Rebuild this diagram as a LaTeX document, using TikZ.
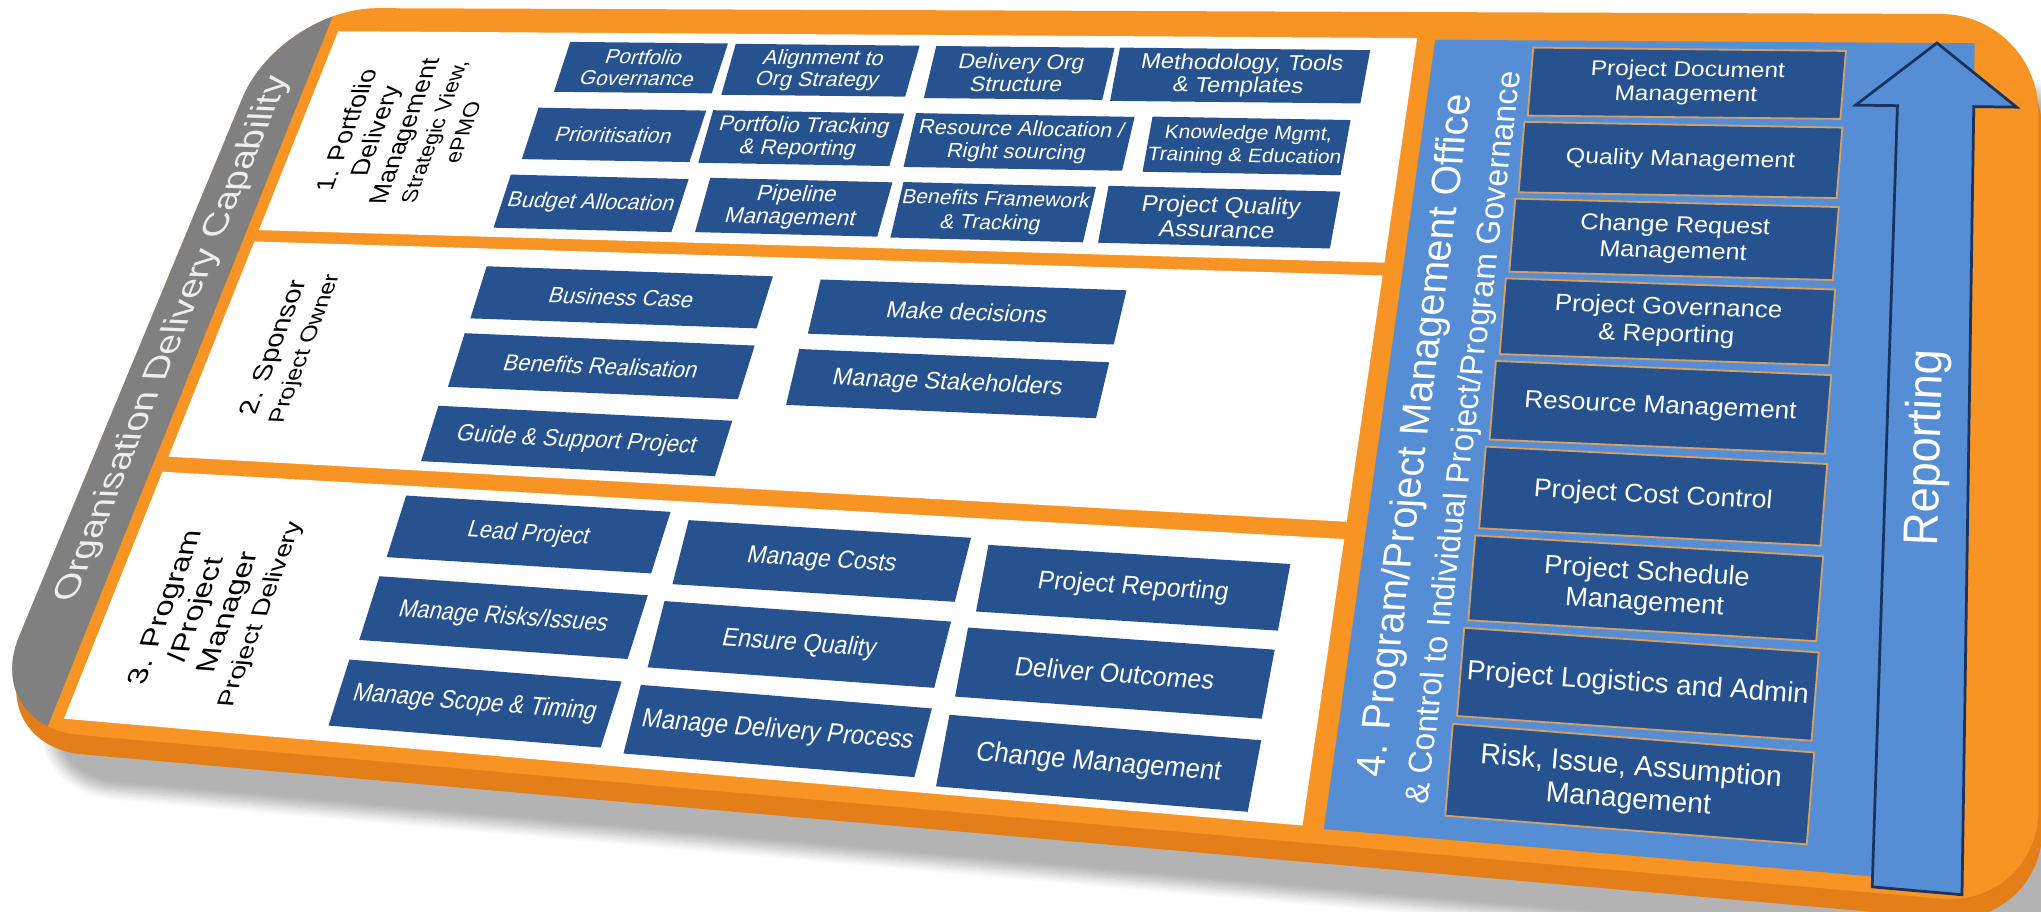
\documentclass[tikz,border=0pt]{standalone}
\usepackage{fontspec}
\setmainfont{Liberation Sans}
\usepackage{tikz}
\usetikzlibrary{shadows.blur}

\definecolor{boardorange}{RGB}{247,148,35}
\definecolor{boardside}{RGB}{228,126,24}
\definecolor{bandgray}{RGB}{128,128,128}
\definecolor{boxblue}{RGB}{38,82,143}
\definecolor{pmoblue}{RGB}{85,142,213}
\definecolor{pmoedge}{RGB}{214,160,100}
\definecolor{arrowline}{RGB}{25,50,95}

% the slide is laid out flat (u across, v down, in cm) and then seen in perspective
\newcommand\flatmap[2]{%
  \pgfmathsetmacro\flS{#1/14.426}%
  \pgfmathsetmacro\flT{#2/6.073}%
  \pgfmathsetmacro\flW{1-0.16597*\flS-0.14494*\flT}%
  \pgfmathsetmacro\flx{(1091.1*\flS-226.97*\flT+215)/\flW}%
  \pgfmathsetmacro\fly{(3.174*\flS+471.12*\flT+6)/\flW}%
  \pgfmathsetmacro\flX{\flx/100}%
  \pgfmathsetmacro\flY{7-\fly/100}%
  \pgfmathsetmacro\fla{(1091.1+0.16597*\flx)/\flW/1442.6}%
  \pgfmathsetmacro\flb{-(3.174+0.16597*\fly)/\flW/1442.6}%
  \pgfmathsetmacro\flc{(226.97-0.14494*\flx)/\flW/607.3}%
  \pgfmathsetmacro\fld{(471.12+0.14494*\fly)/\flW/607.3}%
}
\newcommand\flatpt[3]{\flatmap{#2}{#3}\coordinate (#1) at (\flX,\flY);}
\newcommand\flatrect[5]{\flatpt{#1-nw}{#2}{#3}\flatpt{#1-ne}{#4}{#3}\flatpt{#1-se}{#4}{#5}\flatpt{#1-sw}{#2}{#5}}
\newcommand\rolesub{\fontsize{5.6}{6.6}\selectfont}

\begin{document}
\begin{tikzpicture}[
flat/.style args={#1/#2}{/utils/exec={\flatmap{#1}{#2}}, cm={\fla,\flb,\flc,\fld,(\flX,\flY)}, transform shape},
capbox/.style={fill=boxblue, text=white, align=center, inner sep=0pt, minimum height=0.46cm, font=\fontsize{5.3}{5.6}\selectfont},
duty/.style={fill=boxblue, text=white, inner sep=0pt, minimum height=0.43cm, font=\fontsize{5.2}{6}\selectfont},
task/.style={fill=boxblue, text=white, inner sep=0pt, minimum height=0.46cm, minimum width=2.15cm, font=\fontsize{5}{6}\selectfont},
pmobox/.style={fill=boxblue, draw=pmoedge, line width=0.4pt, text=white, align=center, inner sep=0pt, minimum height=0.56cm, minimum width=2.25cm, font=\fontsize{5}{5.7}\selectfont},
role/.style={rotate=90, align=center, font=\fontsize{6.5}{7.6}\selectfont}
]
\useasboundingbox (0,0) rectangle (15.68,7.00);

% outlines of the board, its panels and the arrow
\flatrect{board}{0}{0}{14.426}{6.073}
\flatrect{band}{0}{0}{0.55}{6.073}
\flatrect{pone}{0.66}{0.226}{9.94}{2.07}
\flatrect{ptwo}{0.66}{2.17}{9.94}{3.98}
\flatrect{pthree}{0.66}{4.10}{9.94}{5.97}
\flatrect{pmo}{10.08}{0.24}{13.99}{5.98}
\flatpt{abl}{13.47}{6.04}
\flatpt{atl}{13.47}{0.75}
\flatpt{ahl}{13.18}{0.75}
\flatpt{atip}{13.73}{0.24}
\flatpt{ahr}{14.28}{0.75}
\flatpt{atr}{13.99}{0.75}
\flatpt{abr}{13.99}{6.04}

\fill[boardside, rounded corners=0.75cm, blur shadow={shadow xshift=0.25cm, shadow yshift=-0.28cm, shadow opacity=30, shadow blur steps=12}] ([shift={(0.03,-0.15)}]board-nw) -- ([shift={(0.03,-0.15)}]board-ne) -- ([shift={(0.03,-0.15)}]board-se) -- ([shift={(0.03,-0.15)}]board-sw) -- cycle;
\fill[boardorange, rounded corners=0.75cm] (board-nw) -- (board-ne) -- (board-se) -- (board-sw) -- cycle;
\begin{scope}
\clip (board-nw) -- (band-ne) -- (band-se) -- (board-sw) -- cycle;
\fill[bandgray, rounded corners=0.75cm] (board-nw) -- (board-ne) -- (board-se) -- (board-sw) -- cycle;
\end{scope}
\fill[white] (pone-nw) -- (pone-ne) -- (pone-se) -- (pone-sw) -- cycle;
\fill[white] (ptwo-nw) -- (ptwo-ne) -- (ptwo-se) -- (ptwo-sw) -- cycle;
\fill[white] (pthree-nw) -- (pthree-ne) -- (pthree-se) -- (pthree-sw) -- cycle;
\fill[pmoblue] (pmo-nw) -- (pmo-ne) -- (pmo-se) -- (pmo-sw) -- cycle;
\filldraw[fill=pmoblue, draw=arrowline, line width=0.6pt] (abl) -- (atl) -- (ahl) -- (atip) -- (ahr) -- (atr) -- (abr) -- cycle;

\node[flat=0.275/3.02, rotate=90, text=white!93!black, font=\fontsize{8.9}{10}\selectfont] (orgcap) {Organisation Delivery Capability};

% 1. portfolio delivery management
\node[flat=1.64/1.16, role] (role1) {1. Portfolio\\Delivery\\Management\\\rolesub Strategic View,\\\rolesub ePMO};
\node[flat=3.585/0.546, capbox, minimum width=1.41cm] (pgov) {Portfolio\\Governance};
\node[flat=5.16/0.553, capbox, minimum width=1.58cm] (aligns) {Alignment to\\Org Strategy};
\node[flat=6.835/0.559, capbox, minimum width=1.47cm] (dorg) {Delivery Org\\Structure};
\node[flat=8.615/0.562, capbox, minimum width=1.97cm] (mtt) {Methodology, Tools\\\& Templates};
\node[flat=3.54/1.157, capbox, minimum width=1.48cm] (prio) {Prioritisation};
\node[flat=5.16/1.157, capbox, minimum width=1.62cm] (ptrack) {Portfolio Tracking\\\& Reporting};
\node[flat=6.965/1.157, capbox, minimum width=1.77cm, font=\fontsize{5.0}{5.6}\selectfont] (ralloc) {Resource Allocation /\\Right sourcing};
\node[flat=8.765/1.157, capbox, minimum width=1.53cm, font=\fontsize{4.6}{5.4}\selectfont] (kmgmt) {Knowledge Mgmt,\\Training \& Education};
\node[flat=3.535/1.76, capbox, minimum width=1.55cm] (budget) {Budget Allocation};
\node[flat=5.26/1.75, capbox, minimum width=1.52cm] (pipe) {Pipeline\\Management};
\node[flat=6.89/1.75, capbox, minimum width=1.54cm, font=\fontsize{4.8}{5.6}\selectfont] (bfw) {Benefits Framework\\\& Tracking};
\node[flat=8.655/1.745, capbox, minimum width=1.77cm] (pqa) {Project Quality\\Assurance};

% 2. sponsor
\node[flat=1.35/3.06, role] (role2) {2. Sponsor\\\rolesub Project Owner};
\node[flat=4.05/2.54, duty, minimum width=2.42cm] (bcase) {Business Case};
\node[flat=4.06/3.10, duty, minimum width=2.42cm] (brealise) {Benefits Realisation};
\node[flat=4.05/3.69, duty, minimum width=2.42cm] (guide) {Guide \& Support Project};
\node[flat=6.87/2.56, duty, minimum width=2.40cm] (decide) {Make decisions};
\node[flat=6.85/3.12, duty, minimum width=2.40cm] (stake) {Manage Stakeholders};

% 3. program / project manager
\node[flat=1.55/5.12, role] (role3) {3. Program\\/Project\\Manager\\\rolesub Project Delivery};
\node[flat=3.90/4.41, task] (lead) {Lead Project};
\node[flat=6.225/4.47, task] (costs) {Manage Costs};
\node[flat=8.53/4.52, task] (preport) {Project Reporting};
\node[flat=3.91/5.02, task] (risks) {Manage Risks/Issues};
\node[flat=6.216/5.06, task] (quality) {Ensure Quality};
\node[flat=8.514/5.10, task] (outcomes) {Deliver Outcomes};
\node[flat=3.90/5.63, task] (scope) {Manage Scope \& Timing};
\node[flat=6.218/5.65, task] (dprocess) {Manage Delivery Process};
\node[flat=8.519/5.69, task] (change) {Change Management};

% 4. PMO column
\node[flat=10.50/3.35, rotate=90, align=center, text=white, font=\fontsize{8}{9.2}\selectfont] (pmotitle) {4. Program/Project Management Office\\\fontsize{6.5}{7.6}\selectfont\& Control to Individual Project/Program Governance};
\node[flat=11.98/0.588, pmobox] (pdoc) {Project Document\\Management};
\node[flat=11.98/1.209, pmobox] (qmgmt) {Quality Management};
\node[flat=11.98/1.829, pmobox] (crm) {Change Request\\Management};
\node[flat=11.98/2.450, pmobox] (pgr) {Project Governance\\\& Reporting};
\node[flat=11.98/3.071, pmobox] (resmgmt) {Resource Management};
\node[flat=11.98/3.692, pmobox] (costctl) {Project Cost Control};
\node[flat=11.98/4.312, pmobox] (sched) {Project Schedule\\Management};
\node[flat=11.98/4.933, pmobox] (logis) {Project Logistics and Admin};
\node[flat=11.98/5.554, pmobox] (raim) {Risk, Issue, Assumption\\Management};
\node[flat=13.73/3.27, rotate=90, text=white, font=\fontsize{8.8}{10}\selectfont] (rep) {Reporting};
\end{tikzpicture}
\end{document}
